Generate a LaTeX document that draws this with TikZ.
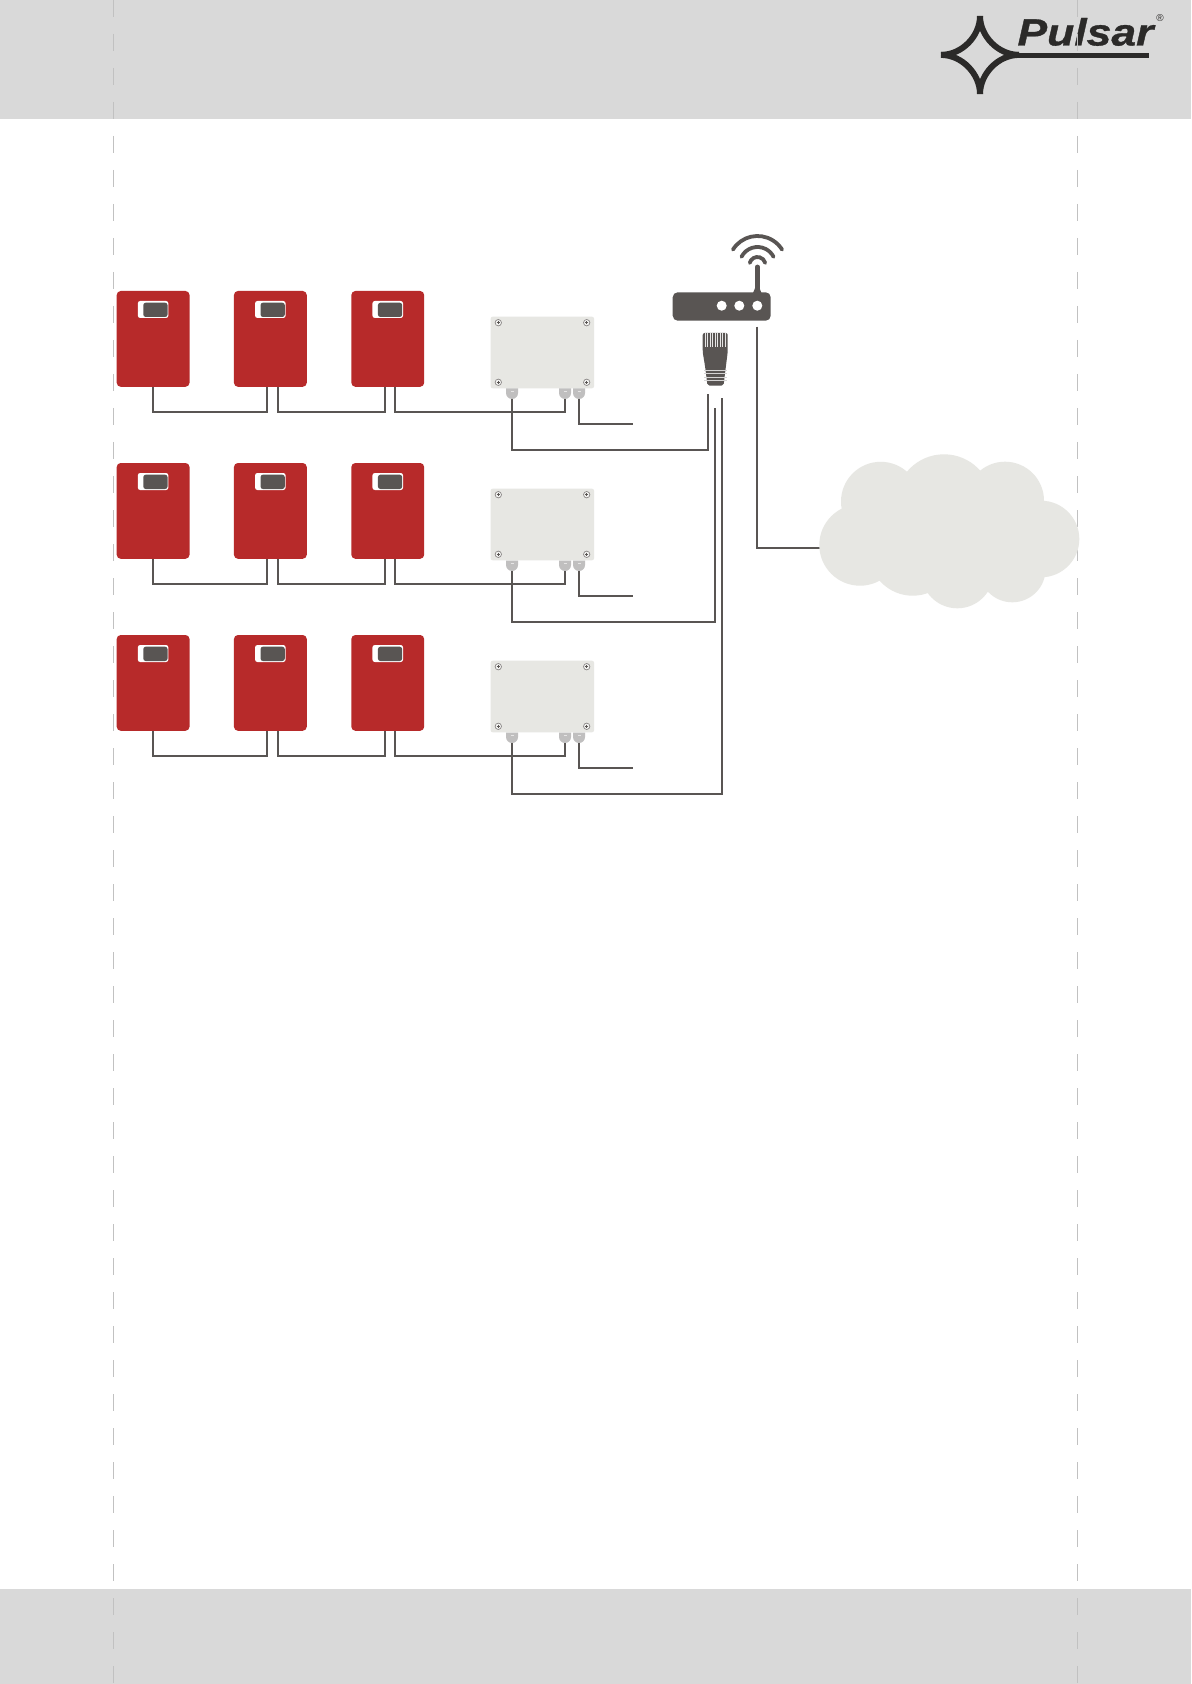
\documentclass[tikz,border=0pt]{standalone}
\usepackage{fontspec}
\setmainfont{Liberation Sans}
\newfontfamily\logofont[BoldItalicFeatures={FakeBold=0.8}]{Liberation Sans}
\definecolor{bandgray}{HTML}{D9D9D9}
\definecolor{dashgray}{HTML}{C1C1C1}
\definecolor{psured}{HTML}{B72A2A}
\definecolor{wiregray}{HTML}{595553}
\definecolor{boxgray}{HTML}{E7E7E3}
\definecolor{glandgray}{HTML}{C0BFBF}
\definecolor{logoblack}{HTML}{2B2A29}
\tikzset{
    psu/.style={fill=psured,rounded corners=2pt,inner sep=0pt,minimum width=36.4pt,minimum height=47.9pt},
    window/.style={fill=white,rounded corners=1.2pt,inner sep=0pt,minimum width=15.3pt,minimum height=8.5pt},
    display/.style={fill=wiregray,rounded corners=1.2pt,inner sep=0pt,minimum width=12.1pt,minimum height=7.15pt},
    jbox/.style={fill=boxgray,rounded corners=1pt,inner sep=0pt,minimum width=51.65pt,minimum height=35.8pt},
    wire/.style={draw=wiregray,line width=1.15pt},
    led/.style={circle,fill=white,inner sep=0pt,minimum size=5pt},
    guide/.style={draw=dashgray,line width=0.6pt,dash pattern=on 8.5pt off 8.5pt},
    wifi/.style={draw=wiregray,line width=1.9pt,line cap=round},
    star/.style={draw=logoblack,line width=3pt},
    pics/gland/.style={code={
        \fill[glandgray] (-6,0) -- (6,0) -- (6,4.5) arc (0:180:6) -- cycle;
        \draw[white!60!glandgray,line width=0.3pt] (-1.5,3) -- (1.5,3);
        \coordinate (-tip) at (0,10.5);
    }},
    pics/screw/.style={code={
        \draw[draw=wiregray!70,fill=boxgray!50,line width=0.35pt] (0,0) circle (3.2);
        \draw[wiregray,line width=0.4pt] (-1.6,0) -- (1.6,0) (0,-1.6) -- (0,1.6);
    }}
}

\begin{document}
\begin{tikzpicture}[x=0.5pt,y=-0.5pt]
            \useasboundingbox (0,0) rectangle (1191,1684);
            \fill[white] (0,0) rectangle (1191,1684);
            \fill[bandgray] (0,0) rectangle (1191,119);
            \fill[bandgray] (0,1589) rectangle (1191,1684);

            \draw[star] (980,16) .. controls (980,36) and (962,54.9) .. (941,54.9);
            \draw[star] (980,16) .. controls (980,36) and (998,54.9) .. (1019,54.9);
            \draw[star] (980,94) .. controls (980,74) and (962,54.9) .. (941,54.9);
            \draw[star] (980,94) .. controls (980,74) and (998,54.9) .. (1019,54.9);
            \fill[logoblack] (1015,52.6) rectangle (1149,58);
            \node[anchor=base west,inner sep=0pt,xscale=1.17,text=logoblack] (logotext) at (1017,45.5) {\fontsize{19}{19}\selectfont\logofont\bfseries\itshape Pulsar};
            \node[inner sep=0pt,text=logoblack] (logomark) at (1160,18.5) {\fontsize{5}{5}\selectfont ®};

            \draw[guide] (113.5,0) -- (113.5,1684);
            \draw[guide] (1077.5,0) -- (1077.5,1684);

            \coordinate (rj1) at (707.7,394);
            \coordinate (rj2) at (715,408);
            \coordinate (rj3) at (722.3,398);

            \foreach \r/\dy in {1/0,2/172,3/344} {
                \begin{scope}[shift={(0,\dy)}]
                    \foreach \c/\x in {a/153.1,b/270.35,c/387.75} {
                        \node[psu] (psu\r\c) at (\x,338.9) {};
                        \node[window] (win\r\c) at (\x,309.5) {};
                        \node[display] (disp\r\c) at ({\x+2.3},309.85) {};
                    }
                    \node[jbox] (jbox\r) at (542.35,352.5) {};
                    \foreach \sx/\sy in {498.3/322.7,586.7/322.7,498.3/382.3,586.7/382.3} {
                        \pic at (\sx,\sy) {screw};
                    }
                    \pic (gl\r a) at (512,388.5) {gland};
                    \pic (gl\r b) at (565,388.5) {gland};
                    \pic (gl\r c) at (579,388.5) {gland};
                    \coordinate (out\r) at (632.7,424);

                    \draw[wire] (psu\r a.south) -- ++(0,25) -| ([shift={(-3.65,0)}]psu\r b.south);
                    \draw[wire] ([shift={(7.65,0)}]psu\r b.south) -- ++(0,25) -| ([shift={(-3.05,0)}]psu\r c.south);
                    \draw[wire] ([shift={(7.25,0)}]psu\r c.south) -- ++(0,25) -| (gl\r b-tip);
                    \draw[wire] (gl\r c-tip) |- (out\r);
                    \draw[wire] (gl\r a-tip) -- ++(0,51) -| (rj\r);
                \end{scope}
            }

            \node[fill=wiregray,rounded corners=2.5pt,inner sep=0pt,minimum width=49pt,minimum height=14.2pt] (router) at (721.7,306.5) {};
            \node[led] (led1) at (721.7,305.7) {};
            \node[led] (led2) at (739.3,305.7) {};
            \node[led] (led3) at (757.3,305.7) {};
            \fill[wiregray] (753,293) -- (761.5,293) -- (759,287) -- (755.5,287) -- cycle;
            \draw[wiregray,line width=2.3pt,line cap=round] (led3 |- router.north) -- ++(0,-25);
            \draw[wifi] (757.5,265) ++(212:29) arc (212:328:29);
            \draw[wifi] (757.5,265) ++(207:18) arc (207:333:18);
            \draw[wifi] (757.5,265) ++(195:8) arc (195:345:8);

            \fill[wiregray,rounded corners=1pt] (702.7,333) -- (727.7,333) -- (727.7,352) -- (725.7,368) -- (723.5,385.7) -- (707.5,385.7) -- (705.3,368) -- (702.7,352) -- cycle;
            \foreach \sx in {705,707.5,...,725.5} {
                \draw[white!85!wiregray,line width=0.4pt] (\sx,333) -- (\sx,346.7);
            }
            \foreach \sy in {370,373.5,377,380.5} {
                \draw[white!75!wiregray,line width=0.45pt] (704,\sy) -- (727,\sy);
            }

            \coordinate (cloudin) at (825,548);
            \draw[wire] ([shift={(0,15.5)}]led3.south) |- (cloudin);

            \fill[boxgray] (860,545) circle (40.7);
            \fill[boxgray] (880.7,501.5) circle (39.7);
            \fill[boxgray] (944,502.5) circle (48.2);
            \fill[boxgray] (1005,500.7) circle (39);
            \fill[boxgray] (1041,539) circle (38.3);
            \fill[boxgray] (1012.3,569) circle (33.3);
            \fill[boxgray] (957.3,572) circle (36.3);
            \fill[boxgray] (912.7,551.7) circle (44);
            \fill[boxgray] (870,490) rectangle (1030,570);
        \end{tikzpicture}
\end{document}
